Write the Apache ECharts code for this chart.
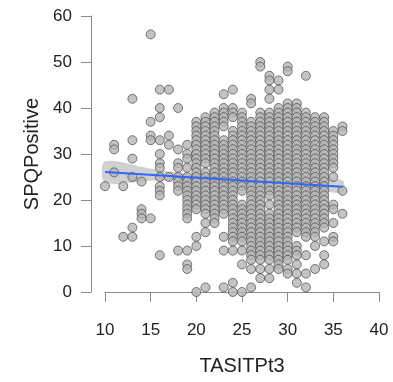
<!DOCTYPE html>
<html>
<head>
<meta charset="utf-8">
<script src="https://cdn.jsdelivr.net/npm/echarts@6/dist/echarts.min.js"></script>
<style>
  html, body { margin: 0; padding: 0; background: #fff; }
  #container { width: 393px; height: 382px; }
</style>
</head>
<body>
<div id="container"></div>
<script>
// TASITPt3 values (x) and the SPQPositive values (y) found at each of them
const tasit = [10, 11, 12, 13, 14, 15, 16, 17, 18, 19, 20, 21, 22, 23, 24, 25, 26, 27, 28, 29, 30, 31, 32, 33, 34, 35, 36];
const spq = [
  [23],
  [32, 31, 26],
  [23, 12],
  [42, 33, 29, 25, 14, 12],
  [24, 18, 17, 16],
  [56, 37, 34, 33, 16],
  [44, 40, 38, 33, 30, 28, 27, 25, 23, 22, 21, 8],
  [44, 34, 32, 25],
  [40, 31, 28, 27, 25, 24, 23, 22, 9],
  [32, 30, 29, 27, 25, 24, 23, 22, 21, 20, 19, 18, 17, 16, 9, 6, 5],
  [37, 36, 35, 34, 33, 32, 31, 30, 29, 28, 27, 26, 25, 24, 23, 22, 21, 20, 19, 18, 12, 10, 0],
  [38, 37, 36, 35, 34, 33, 32, 31, 30, 29, 28, 26, 25, 24, 23, 22, 21, 20, 19, 18, 17, 15, 13, 1],
  [39, 38, 37, 36, 35, 34, 33, 32, 31, 30, 29, 28, 27, 26, 25, 24, 23, 22, 21, 20, 19, 18, 17, 16, 15],
  [43, 40, 39, 38, 37, 36, 33, 32, 31, 30, 29, 28, 27, 26, 25, 24, 23, 22, 21, 20, 19, 18, 17, 12, 9, 1],
  [44, 40, 39, 38, 35, 34, 33, 32, 31, 30, 29, 28, 27, 26, 25, 24, 23, 22, 21, 20, 19, 18, 17, 16, 15, 14, 13, 12, 11, 9, 2, 0],
  [39, 38, 37, 36, 35, 34, 33, 32, 31, 30, 29, 28, 27, 26, 25, 24, 23, 22, 19, 18, 17, 16, 15, 14, 13, 12, 11, 9, 6, 0],
  [42, 41, 37, 36, 35, 34, 33, 32, 31, 30, 29, 28, 27, 26, 25, 24, 23, 22, 21, 20, 19, 18, 17, 16, 15, 14, 13, 12, 11, 10, 9, 8, 7, 5, 1],
  [50, 49, 39, 38, 37, 36, 35, 34, 33, 32, 31, 30, 29, 28, 27, 26, 25, 24, 23, 22, 21, 20, 19, 18, 17, 16, 15, 14, 13, 12, 11, 10, 9, 8, 7, 5, 3],
  [47, 46, 44, 42, 39, 38, 37, 36, 35, 34, 33, 32, 31, 30, 29, 28, 27, 26, 25, 24, 23, 22, 21, 19, 17, 16, 15, 14, 13, 12, 11, 10, 9, 8, 7, 5, 3],
  [46, 44, 40, 39, 38, 37, 36, 35, 34, 33, 32, 31, 30, 29, 28, 27, 26, 25, 24, 23, 22, 21, 20, 19, 18, 17, 16, 15, 14, 13, 12, 11, 10, 9, 8, 7, 6, 5],
  [49, 48, 41, 40, 39, 38, 37, 36, 35, 34, 33, 32, 31, 30, 29, 28, 27, 26, 25, 24, 23, 22, 21, 20, 19, 18, 17, 16, 15, 14, 13, 12, 11, 10, 9, 8, 7, 5, 4],
  [41, 40, 39, 38, 37, 36, 35, 34, 33, 32, 31, 30, 29, 28, 27, 26, 25, 24, 23, 22, 21, 20, 19, 18, 17, 16, 15, 14, 13, 10, 9, 8, 6, 4, 2],
  [47, 39, 38, 37, 36, 35, 34, 33, 32, 31, 30, 29, 28, 27, 26, 25, 24, 23, 22, 21, 20, 19, 18, 17, 16, 15, 14, 13, 12, 8, 4, 1],
  [38, 37, 36, 35, 34, 33, 32, 31, 30, 29, 28, 27, 26, 25, 24, 23, 22, 21, 20, 19, 18, 17, 16, 15, 14, 13, 12, 10, 5],
  [38, 37, 36, 35, 34, 33, 32, 31, 30, 29, 28, 27, 26, 25, 24, 23, 22, 21, 20, 19, 18, 17, 16, 15, 14, 11, 8, 6],
  [35, 34, 33, 32, 31, 30, 29, 28, 27, 25, 19, 18, 15, 12, 11],
  [36, 35, 22, 17]
];

// fitted line (ends) and its confidence band
const fitX = [10, 36];
const fitY = [26.1, 22.9];
const bandX = [10, 15, 20, 25, 28, 32, 36];
const bandLow = [23.8, 24.2, 24.3, 23.85, 23.5, 22.8, 21.5];
const bandHigh = [28.4, 26.8, 25.5, 24.65, 24.3, 24.0, 24.3];

const xTicks = [10, 15, 20, 25, 30, 35, 40];
const yTicks = [0, 10, 20, 30, 40, 50, 60];

let points = [];
tasit.forEach((x, i) => {
  spq[i].forEach(y => points.push([x, y]));
});

const font = "'Liberation Sans', Arial, sans-serif";
let chart = echarts.init(document.getElementById('container'), null, { renderer: 'canvas' });

chart.setOption({
  animation: false,
  grid: { left: 105, right: 14, top: 16, bottom: 90 },
  xAxis: {
    type: 'value',
    min: xTicks[0], max: xTicks[xTicks.length - 1], interval: 5,
    offset: 14,
    name: 'TASITPt3',
    nameLocation: 'middle',
    nameGap: 50,
    nameTextStyle: { fontFamily: font, fontSize: 20, color: '#222' },
    axisLine: { show: true, lineStyle: { color: '#8a8a8a', width: 1 } },
    axisTick: { show: true, length: 10, lineStyle: { color: '#8a8a8a' } },
    axisLabel: { fontFamily: font, fontSize: 17, color: '#222', margin: 16 },
    splitLine: { show: false }
  },
  yAxis: {
    type: 'value',
    min: yTicks[0], max: yTicks[yTicks.length - 1], interval: 10,
    offset: 14,
    name: 'SPQPositive',
    nameLocation: 'middle',
    nameGap: 49,
    nameTextStyle: { fontFamily: font, fontSize: 20, color: '#222' },
    axisLine: { show: true, lineStyle: { color: '#8a8a8a', width: 1 } },
    axisTick: { show: true, length: 10, lineStyle: { color: '#8a8a8a' } },
    axisLabel: { fontFamily: font, fontSize: 17, color: '#222', margin: 19 },
    splitLine: { show: false }
  },
  series: [
    {
      // confidence band as one polygon through the axis scales
      type: 'custom',
      data: [0],
      z: 1,
      silent: true,
      renderItem: function (params, api) {
        let pts = [];
        bandX.forEach((x, i) => pts.push(api.coord([x, bandHigh[i]])));
        for (let i = bandX.length - 1; i >= 0; i--) pts.push(api.coord([bandX[i], bandLow[i]]));
        return {
          type: 'polygon',
          shape: { points: pts, smooth: 0.3 },
          style: { fill: '#c8c8c8', opacity: 0.85 }
        };
      }
    },
    {
      type: 'scatter',
      data: points,
      symbol: 'circle',
      symbolSize: 9,
      clip: false,
      itemStyle: { color: '#b5b5b5', borderColor: '#4a4a4a', borderWidth: 0.9 },
      z: 2
    },
    {
      type: 'line',
      data: fitX.map((x, i) => [x, fitY[i]]),
      symbol: 'none',
      lineStyle: { color: '#3366ff', width: 2 },
      z: 3
    }
  ]
});
</script>
</body>
</html>
